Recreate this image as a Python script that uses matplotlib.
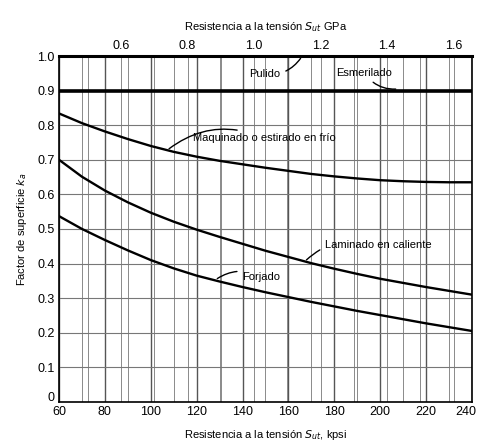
import matplotlib
matplotlib.use("Agg")
import matplotlib.pyplot as plt
from matplotlib.transforms import ScaledTranslation

plt.rcParams['font.family'] = ['Liberation Sans', 'DejaVu Sans']

# Data (x in kpsi)
sut_kpsi = [60, 70, 80, 90, 100, 110, 120, 130, 140, 150, 160, 170, 180, 190, 200, 210, 220, 230, 240]
maquinado = [0.834, 0.806, 0.782, 0.760, 0.740, 0.723, 0.709, 0.697, 0.687, 0.677, 0.668,
             0.659, 0.652, 0.646, 0.641, 0.638, 0.636, 0.635, 0.635]
laminado = [0.700, 0.651, 0.611, 0.577, 0.547, 0.521, 0.498, 0.477, 0.457, 0.437, 0.419,
            0.401, 0.385, 0.370, 0.356, 0.344, 0.332, 0.321, 0.310]
forjado = [0.537, 0.500, 0.468, 0.438, 0.410, 0.386, 0.365, 0.348, 0.332, 0.317, 0.303,
           0.289, 0.276, 0.263, 0.251, 0.239, 0.227, 0.216, 0.205]
pulido = [1.0] * len(sut_kpsi)
esmerilado = [0.9] * len(sut_kpsi)

x_ticks = [60, 80, 100, 120, 140, 160, 180, 200, 220, 240]
y_ticks = [0, 0.1, 0.2, 0.3, 0.4, 0.5, 0.6, 0.7, 0.8, 0.9, 1.0]
y_ticklabels = ['0', '0.1', '0.2', '0.3', '0.4', '0.5', '0.6', '0.7', '0.8', '0.9', '1.0']
gpa_ticks = [0.6, 0.8, 1.0, 1.2, 1.4, 1.6]
gpa_grid = [0.5, 0.6, 0.7, 0.8, 0.9, 1.0, 1.1, 1.2, 1.3, 1.4, 1.5, 1.6]
KPSI_TO_GPA = 0.006895

fig = plt.figure(figsize=(4.8, 4.45), dpi=100)
ax = fig.add_axes([0.123, 0.097, 0.860, 0.777])

# grid
for xv in range(60, 241, 10):
    ax.axvline(xv, color='#555555' if xv % 20 == 0 else '#8a8a8a',
               lw=1.0 if xv % 20 == 0 else 0.7, zorder=1)
for g in gpa_grid:
    ax.axvline(g / KPSI_TO_GPA, color='#8a8a8a', lw=0.7, zorder=1)
for yv in y_ticks:
    ax.axhline(yv, color='#777777', lw=0.8, zorder=1)

lw = 1.7
ax.plot(sut_kpsi, pulido, color='black', lw=2.2, zorder=3, clip_on=False)
ax.plot(sut_kpsi, esmerilado, color='black', lw=2.6, zorder=3)
ax.plot(sut_kpsi, maquinado, color='black', lw=lw, zorder=3)
ax.plot(sut_kpsi, laminado, color='black', lw=lw, zorder=3)
ax.plot(sut_kpsi, forjado, color='black', lw=lw, zorder=3)

ax.set_xlim(60, 240)
ax.set_ylim(0, 1.0)
ax.set_xticks(x_ticks)
ax.set_yticks(y_ticks)
ax.set_yticklabels(y_ticklabels)
ax.tick_params(length=0, labelsize=9, pad=3)
for s in ax.spines.values():
    s.set_linewidth(1.2)

# nudge edge labels so they don't collide / get clipped
xl = ax.get_xticklabels()
xl[-1].set_transform(xl[-1].get_transform() + ScaledTranslation(-4 / 72, 0, fig.dpi_scale_trans))
yl = ax.get_yticklabels()
yl[0].set_transform(yl[0].get_transform() + ScaledTranslation(0, 4 / 72, fig.dpi_scale_trans))

ax.set_xlabel('Resistencia a la tensión $S_{ut}$, kpsi', fontsize=8, labelpad=7)
ax.set_ylabel('Factor de superficie $k_a$', fontsize=8, labelpad=6)

sec = ax.secondary_xaxis('top', functions=(lambda k: k * KPSI_TO_GPA, lambda g: g / KPSI_TO_GPA))
sec.set_xticks(gpa_ticks)
sec.set_xticklabels(['0.6', '0.8', '1.0', '1.2', '1.4', '1.6'])
sec.tick_params(length=0, labelsize=9, pad=3)
sec.set_xlabel('Resistencia a la tensión $S_{ut}$ GPa', fontsize=8, labelpad=7)

ann = dict(arrowprops=dict(arrowstyle='-', color='black', lw=1.0,
                           connectionstyle='arc3,rad=0.3'), fontsize=8, va='center')
ax.annotate('Pulido', xy=(166, 1.0), xytext=(143, 0.947), ha='left', **ann)
ax.annotate('Esmerilado', xy=(208, 0.905), xytext=(181, 0.952), ha='left', **ann)
ax.annotate('Maquinado o estirado en frío', xy=(107, 0.727), xytext=(118.5, 0.762), ha='left', **ann)
ax.annotate('Laminado en caliente', xy=(167, 0.405), xytext=(176, 0.454), ha='left', **ann)
ax.annotate('Forjado', xy=(128, 0.352), xytext=(140, 0.362), ha='left', **ann)

fig.savefig('out.png', dpi=100)
